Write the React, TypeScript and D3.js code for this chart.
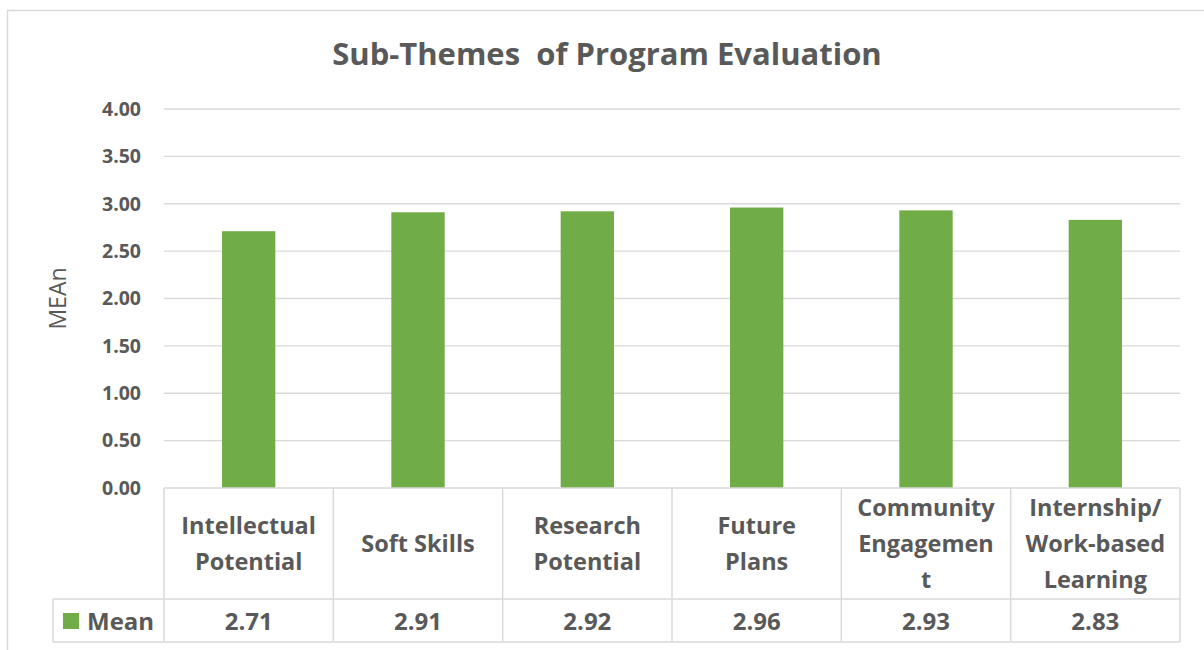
import React from "react";
import * as d3 from "d3";

const categories: string[][] = [
  ["Intellectual", "Potential"],
  ["Soft Skills"],
  ["Research", "Potential"],
  ["Future", "Plans"],
  ["Community", "Engagemen", "t"],
  ["Internship/", "Work-based", "Learning"],
];
const values: number[] = [2.71, 2.91, 2.92, 2.96, 2.93, 2.83];
const yTicks: number[] = [0, 0.5, 1, 1.5, 2, 2.5, 3, 3.5, 4];
const seriesName = "Mean";
const title = "Sub-Themes  of Program Evaluation";
const yTitle = "MEAn";

const W = 1204;
const H = 650;
const plotLeft = 164;
const plotRight = 1180;
const plotTop = 109;
const plotBottom = 488;
const rowSep = 599;
const tableBottom = 642;
const legendLeft = 53;
const TEXT = "#595959";
const GRID = "#d9d9d9";
const GREEN = "#70ad47";
const FONT = "'Open Sans', sans-serif";

export default function App() {
  const idx = categories.map((_, i) => String(i));
  const x = d3.scaleBand<string>().domain(idx).range([plotLeft, plotRight]).paddingInner(0).paddingOuter(0);
  const y = d3.scaleLinear().domain([0, 4]).range([plotBottom, plotTop]);
  const bw = x.bandwidth();
  const barW = bw * 0.315;
  const lineH = 36;
  const catMid = (plotBottom + rowSep) / 2;
  const valMid = (rowSep + tableBottom) / 2 + 1;

  return (
    <div style={{ position: "absolute", left: 0, top: 0 }}>
      <svg width={W} height={H} style={{ display: "block", fontFamily: FONT }}>
        <rect x={0} y={0} width={W} height={H} fill="#fff" />
        <rect x={7.5} y={10.5} width={W + 10} height={H + 10} fill="none" stroke={GRID} strokeWidth={1.5} />
        <text x={607} y={65} textAnchor="middle" fontSize={31} fontWeight="bold" fill={TEXT} style={{ whiteSpace: "pre" }}>
          {title}
        </text>
        {yTicks.map((t) => (
          <g key={t}>
            {t > 0 && (
              <line x1={plotLeft} x2={plotRight} y1={y(t)} y2={y(t)} stroke={GRID} strokeWidth={1.3} />
            )}
            <text x={141} y={y(t)} dy="0.35em" textAnchor="end" fontSize={19.5} fontWeight="bold" fill={TEXT}>
              {t.toFixed(2)}
            </text>
          </g>
        ))}
        <text
          transform={`translate(66,${(plotTop + plotBottom) / 2}) rotate(-90)`}
          textAnchor="middle"
          fontSize={23}
          fill={TEXT}
        >
          {yTitle}
        </text>
        {values.map((v, i) => {
          const cx = (x(String(i)) as number) + bw / 2;
          return (
            <rect key={i} x={cx - barW / 2} y={y(v)} width={barW} height={y(0) - y(v)} fill={GREEN} />
          );
        })}
        {/* data table */}
        <g stroke={GRID} strokeWidth={1.5} fill="none">
          <line x1={plotLeft} x2={plotRight} y1={plotBottom} y2={plotBottom} />
          <line x1={legendLeft} x2={plotRight} y1={rowSep} y2={rowSep} />
          <line x1={legendLeft} x2={plotRight} y1={tableBottom} y2={tableBottom} />
          <line x1={legendLeft} x2={legendLeft} y1={rowSep} y2={tableBottom} />
          {d3.range(categories.length + 1).map((i) => {
            const xx = i < categories.length ? (x(String(i)) as number) : plotRight;
            return <line key={i} x1={xx} x2={xx} y1={plotBottom} y2={tableBottom} />;
          })}
        </g>
        {categories.map((lines, i) => {
          const cx = (x(String(i)) as number) + bw / 2;
          const start = catMid - ((lines.length - 1) * lineH) / 2;
          return (
            <text key={i} textAnchor="middle" fontSize={23.5} fontWeight="bold" fill={TEXT}>
              {lines.map((l, j) => (
                <tspan key={j} x={cx} y={start + j * lineH} dy="0.35em">
                  {l}
                </tspan>
              ))}
            </text>
          );
        })}
        {values.map((v, i) => {
          const cx = (x(String(i)) as number) + bw / 2;
          return (
            <text key={i} x={cx} y={valMid} dy="0.35em" textAnchor="middle" fontSize={24} fontWeight="bold" fill={TEXT}>
              {v.toFixed(2)}
            </text>
          );
        })}
        <rect x={63} y={613} width={16} height={16} fill={GREEN} />
        <text x={87} y={valMid} dy="0.35em" fontSize={24} fontWeight="bold" fill={TEXT}>
          {seriesName}
        </text>
      </svg>
    </div>
  );
}
